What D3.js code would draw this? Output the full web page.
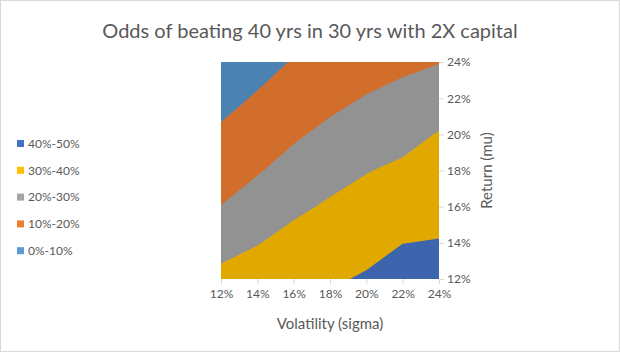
<!DOCTYPE html>
<html lang="en">
<head>
    <meta charset="UTF-8">
    <title>Odds of beating 40 yrs in 30 yrs with 2X capital</title>
    <style>
        body { margin: 0; background: #fff; }
        svg { display: block; }
        text { font-family: Lato, "Open Sans", sans-serif; fill: #595959; }
    </style>
</head>
<body>
    <div id="chart"></div>
    <script src="https://d3js.org/d3.v7.min.js"></script>
    <script>
        // grid axes (percent)
        const sigma = [12, 14, 16, 18, 20, 22, 24];
        const mu = [12, 14, 16, 18, 20, 22, 24];

        // odds (%), one row per mu, one column per sigma
        const odds = [
            [32.6, 34.9, 37.8, 38.9, 40.9, 44.3, 43.8],  // mu 12%
            [26.4, 29.6, 33.0, 35.0, 37.2, 39.9, 40.4],  // mu 14%
            [20.2, 24.3, 28.2, 31.2, 33.4, 35.7, 37.1],  // mu 16%
            [15.8, 19.3, 23.3, 26.7, 29.6, 31.7, 33.7],  // mu 18%
            [11.5, 15.1, 18.8, 22.2, 25.1, 27.1, 30.5],  // mu 20%
            [7.1, 10.9, 14.9, 17.6, 20.5, 22.6, 25.2],   // mu 22%
            [2.8, 6.7, 10.6, 13.0, 16.0, 18.1, 19.7]     // mu 24%
        ];

        const bandStarts = [0, 10, 20, 30, 40];
        const bandLabels = ["0%-10%", "10%-20%", "20%-30%", "30%-40%", "40%-50%"];
        const bandColors = ["#5B9BD5", "#ED7D31", "#A5A5A5", "#FFC000", "#4472C4"];

        const width = 620, height = 352;
        const plot = { left: 221, right: 439, top: 62, bottom: 279 };

        const svg = d3.select("#chart").append("svg")
            .attr("width", width)
            .attr("height", height);

        // chart border
        svg.append("rect")
            .attr("x", 0.5).attr("y", 0.5)
            .attr("width", width - 1).attr("height", height - 1)
            .attr("fill", "#fff")
            .attr("stroke", "#d9d9d9");

        const x = d3.scaleLinear().domain([12, 24]).range([plot.left, plot.right]);
        const y = d3.scaleLinear().domain([12, 24]).range([plot.bottom, plot.top]);

        // contour grid coords -> data: grid point i sits at i + 0.5
        const step = 2;
        const proj = d3.geoTransform({
            point: function(cx, cy) {
                this.stream.point(x(sigma[0] + (cx - 0.5) * step), y(mu[0] + (cy - 0.5) * step));
            }
        });
        const path = d3.geoPath(proj);

        const values = odds.flat();
        const contours = d3.contours()
            .size([sigma.length, mu.length])
            .thresholds(bandStarts)(values);

        svg.append("clipPath").attr("id", "plot-clip")
            .append("rect")
            .attr("x", plot.left).attr("y", plot.top)
            .attr("width", plot.right - plot.left)
            .attr("height", plot.bottom - plot.top);

        svg.append("g")
            .attr("clip-path", "url(#plot-clip)")
            .selectAll("path")
            .data(contours)
            .join("path")
            .attr("d", path)
            .attr("fill", (d, i) => d3.color(bandColors[i]).darker(i === 0 ? 0.5 : 0.35));

        // axes
        const xAxis = svg.append("g")
            .attr("transform", `translate(0,${plot.bottom})`)
            .call(d3.axisBottom(x).tickValues(sigma).tickSize(5).tickPadding(5).tickFormat(d => d + "%"));
        const yAxis = svg.append("g")
            .attr("transform", `translate(${plot.right},0)`)
            .call(d3.axisRight(y).tickValues(mu).tickSize(5).tickPadding(3).tickFormat(d => d + "%"));
        [xAxis, yAxis].forEach(g => {
            g.select(".domain").remove();
            g.selectAll(".tick line").attr("stroke", "#d9d9d9");
            g.selectAll(".tick text").attr("font-size", 12).attr("fill", "#595959")
                .style("font-family", "Lato, 'Open Sans', sans-serif");
        });

        // titles
        svg.append("text")
            .attr("x", 310).attr("y", 38)
            .attr("text-anchor", "middle")
            .attr("font-size", 20)
            .text("Odds of beating 40 yrs in 30 yrs with 2X capital");

        svg.append("text")
            .attr("x", (plot.left + plot.right) / 2).attr("y", 329)
            .attr("text-anchor", "middle")
            .attr("font-size", 15)
            .text("Volatility (sigma)");

        svg.append("text")
            .attr("transform", `translate(492,${(plot.top + plot.bottom) / 2}) rotate(-90)`)
            .attr("text-anchor", "middle")
            .attr("font-size", 15)
            .text("Return (mu)");

        // legend, highest band first
        const legendRows = d3.range(bandLabels.length).reverse();
        const legend = svg.append("g")
            .selectAll("g")
            .data(legendRows)
            .join("g")
            .attr("transform", (d, i) => `translate(17,${143.5 + i * 26.8})`);
        legend.append("rect")
            .attr("x", 0).attr("y", -3.5)
            .attr("width", 7).attr("height", 7)
            .attr("fill", d => bandColors[d]);
        legend.append("text")
            .attr("x", 11).attr("y", 0)
            .attr("dy", "0.35em")
            .attr("font-size", 12)
            .text(d => bandLabels[d]);
    </script>
</body>
</html>
